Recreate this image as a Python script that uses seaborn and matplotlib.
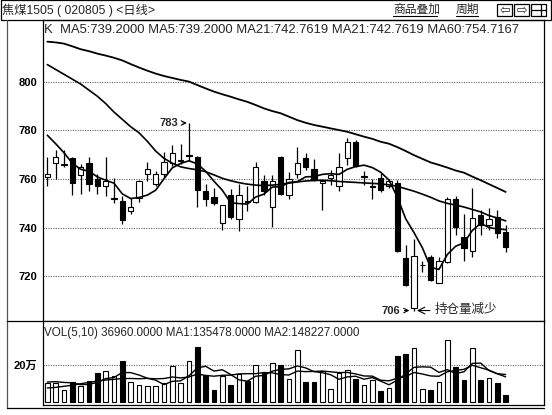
import matplotlib
matplotlib.use("Agg")
import matplotlib.pyplot as plt
import numpy as np
import pandas as pd
import seaborn as sns
from matplotlib.patches import Rectangle
from matplotlib.lines import Line2D

# ---- daily bars (coking coal 1505) ----
opens = [761, 766.5, 765.8, 768.5, 761.5, 766.7, 760, 757, 752, 751,
         747, 752.3, 762, 758, 762.2, 766.6, 767.5, 769.4, 769, 755.2,
         752.5, 742, 753.4, 743.5, 751, 750.7, 759, 748.4, 769, 753.4,
         762, 768.5, 764, 758.5, 760.5, 757, 768.5, 775, 761, 756.8,
         760.3, 757, 758.2, 727.4, 707, 724.5, 728, 717.5, 726, 752,
         736.3, 730.5, 745.2, 741.1, 744.5, 738.4]
highs = [769, 772, 772, 769, 766, 769, 762, 769, 760.4, 753,
         752.3, 759.5, 767, 763.3, 771, 774, 774.5, 783, 769.5, 758,
         756.5, 749.5, 756, 758, 757, 767, 761.6, 761.6, 769.3, 763,
         773.3, 770.7, 768.2, 759.8, 763.7, 770.5, 776.7, 776, 763.2, 760,
         762.3, 760, 759.5, 733, 735.5, 726.5, 729, 728, 752.5, 753,
         745.5, 756.5, 747.3, 748, 747.3, 741]
lows = [757, 760, 765, 753.5, 754, 755, 754, 753, 750, 741.5,
        745.5, 750.5, 759, 757, 761, 765.5, 766.3, 767.5, 748.5, 749,
        749.5, 739, 743.5, 738.5, 747, 750, 753.4, 740.4, 753.4, 752,
        760.3, 763.7, 759, 747.3, 757.5, 755, 765.8, 765, 757.5, 752,
        754.8, 756.5, 730, 716, 706, 722, 718, 717.5, 725.5, 737,
        726.5, 728, 737, 739, 735.6, 730]
closes = [762, 769, 766, 758.5, 765, 758, 757, 759, 752.3, 743.3,
          748.5, 759, 764, 762.2, 767, 770.8, 768, 769.7, 755.5, 752,
          750.3, 749.3, 744.4, 753.4, 750.5, 765, 755.2, 759, 754, 760,
          766.4, 765, 759.5, 759.3, 761.5, 765, 775.3, 765.3, 761.3, 757,
          755.5, 759, 730.5, 716.5, 728.4, 724.7, 718.5, 726.5, 752, 740.5,
          731.5, 743.8, 741.1, 743.4, 737.7, 732.2]

# moving averages of the close
ma5 = [778, 774.5, 770.8, 766.5, 764, 763.2, 760.9, 759.5, 758.3, 753.9,
       752, 752.4, 753.4, 755.4, 760.1, 764.6, 766.4, 767.5, 766.2, 763.2,
       759.1, 755.4, 750.3, 749.9, 749.7, 752.6, 753.8, 756.7, 756.8, 758.6,
       758.9, 760.9, 761, 761.9, 762.2, 761.9, 764, 765.1, 765.7, 764.7,
       762.8, 759.6, 752.6, 743.7, 738, 731.8, 723.7, 722.9, 729, 732.4,
       733.8, 738.9, 741.8, 740.1, 739.5, 739.2]
ma21 = [807, 805, 803, 801, 799, 796.5, 794, 791, 787.5, 784.5,
        781.5, 779, 775.5, 771.5, 768.5, 766.5, 765, 764.3, 763.8, 763,
        761.7, 760.3, 759.3, 758.5, 757.9, 757.5, 757.3, 757.5, 757.8, 758.3,
        758.8, 759.2, 759.4, 759.5, 759.3, 759, 758.8, 758.6, 758.4, 758.2,
        758, 757.6, 757, 756, 755, 753.8, 752.5, 751, 750, 749.3,
        748.5, 747.5, 746.5, 745, 744, 742.8]
ma60 = [816.4, 816.1, 815.6, 814.5, 813.3, 812.5, 811.5, 810.7, 809.8, 808.7,
        807.2, 805.8, 804.5, 803.3, 802.3, 801.5, 800.7, 800, 798.6, 797.2,
        795.9, 794.8, 793.8, 792.7, 791.7, 790.4, 789, 787.9, 787, 785.6,
        784.2, 783.1, 782.2, 781.5, 780.8, 780.1, 779.4, 778.4, 777.4, 776.5,
        775.3, 774.5, 773.1, 771.5, 769.8, 768.3, 766.8, 765.8, 764.7, 763.5,
        762.6, 761, 759.5, 757.9, 756.3, 754.7]

# traded volume and its 5 / 10 day averages
volumes = [104000, 102000, 66000, 107000, 86000, 111000, 155000, 170000, 137500, 223000,
           107000, 89000, 84000, 84000, 102000, 196000, 102000, 223000, 298000, 146000,
           66000, 137500, 93000, 152000, 111000, 200000, 161000, 209000, 200000, 125000,
           280000, 107000, 107000, 170000, 71000, 155000, 173000, 125000, 89000, 116000,
           57000, 75000, 250000, 259000, 295000, 71000, 66000, 107000, 334000, 191000,
           116000, 295000, 116000, 130000, 102000, 36960]
vol_ma5 = [107000, 109000, 105000, 103000, 93000, 94400, 105000, 125800, 131900, 159300,
           158500, 145300, 128100, 117400, 93200, 111000, 113600, 141400, 184200, 193000,
           167000, 174100, 148100, 118900, 111900, 138700, 143400, 166600, 176200, 179000,
           195000, 184200, 163800, 157800, 147000, 122000, 135200, 138800, 122600, 131600,
           112000, 92400, 117400, 151400, 187200, 190000, 188200, 159600, 174600, 153800,
           162800, 208600, 210400, 169600, 151800, 135478]
vol_ma10 = [75000, 78000, 84000, 90000, 98000, 105000, 112000, 118000, 122000, 126200,
            126500, 125200, 127000, 124700, 126300, 134800, 129500, 134800, 150800, 143100,
            139000, 143900, 144800, 151600, 152500, 152900, 158800, 157400, 147600, 145500,
            166900, 163800, 165200, 167000, 163000, 158500, 159700, 151300, 140200, 139300,
            117000, 113800, 128100, 137000, 159400, 151000, 140300, 138500, 163000, 170500,
            176400, 198400, 185000, 172100, 152800, 148227]

price_ticks = [720, 740, 760, 780, 800]
vol_ticks = [200000]
vol_tick_labels = ["20万"]
high_mark = 783
low_mark = 706
title_text = "焦煤1505 ( 020805 ) <日线>"
legend_text = "K  MA5:739.2000 MA5:739.2000 MA21:742.7619 MA21:742.7619 MA60:754.7167"
vol_text = "VOL(5,10) 36960.0000 MA1:135478.0000 MA2:148227.0000"
note_text = "持仓量减少"
menu_items = ["商品叠加", "周期"]

sns.set_theme(style="white")
plt.rcParams["font.family"] = ["Liberation Sans", "Noto Sans CJK SC", "DejaVu Sans"]
plt.rcParams["axes.edgecolor"] = "black"

W, H = 552, 415
fig = plt.figure(figsize=(W / 100, H / 100), dpi=100)
fig.patch.set_facecolor("white")


def fx(px):
    return px / W


def fy(py):
    return 1 - py / H


X0, X1 = 43, 544
ax = fig.add_axes([fx(X0), fy(321), (X1 - X0) / W, (321 - 20) / H])
axv = fig.add_axes([fx(X0), fy(405), (X1 - X0) / W, (405 - 321) / H])

df = pd.DataFrame(dict(day=np.arange(len(closes)), open=opens, high=highs, low=lows,
                       close=closes, ma5=ma5, ma21=ma21, ma60=ma60,
                       vol=volumes, vma5=vol_ma5, vma10=vol_ma10))
rising = (df["close"] >= df["open"]).to_numpy()
fill = np.where(rising, "white", "black")

# ---- price panel ----
for v in price_ticks:
    ax.axhline(v, color="#666666", lw=0.8, ls=(0, (1, 1.2)), zorder=1)
ax.vlines(df["day"], df["low"], df["high"], color="black", lw=0.9, zorder=2)
body_lo = np.minimum(df["open"], df["close"])
body_h = np.maximum((df["close"] - df["open"]).abs(), 0.12)
ax.bar(df["day"], body_h, bottom=body_lo, width=0.62, color=fill,
       edgecolor="black", linewidth=0.8, zorder=3)
for col, lw in [("ma60", 1.3), ("ma21", 1.2), ("ma5", 1.2)]:
    sns.lineplot(data=df, x="day", y=col, ax=ax, color="black", lw=lw,
                 estimator=None, sort=False, zorder=4)

ax.set_xlim(-0.516, 59.6)
ax.set_ylim(701.7, 825.3)
ax.set_xticks([])
ax.set_yticks(price_ticks)
ax.set_yticklabels([str(t) for t in price_ticks], fontsize=8, fontweight="bold")
ax.tick_params(axis="y", length=0, pad=4, colors="black")
ax.set_xlabel("")
ax.set_ylabel("")
for s in ax.spines.values():
    s.set_linewidth(0.9)
    s.set_color("black")

ax.annotate(str(high_mark), xy=(16.75, high_mark), xytext=(15.7, high_mark),
            ha="right", va="center", fontsize=8, fontweight="bold",
            arrowprops=dict(arrowstyle="->", lw=0.8, color="black", shrinkA=1, shrinkB=0))
ax.annotate(str(low_mark), xy=(43.45, low_mark), xytext=(42.3, low_mark),
            ha="right", va="center", fontsize=8, fontweight="bold",
            arrowprops=dict(arrowstyle="->", lw=0.8, color="black", shrinkA=1, shrinkB=0))
ax.annotate("", xy=(44.35, low_mark), xytext=(45.9, low_mark),
            arrowprops=dict(arrowstyle="->", lw=0.8, color="black", shrinkA=0, shrinkB=0))
ax.text(46.5, low_mark + 0.6, note_text, ha="left", va="center", fontsize=9,
        family=["Noto Sans CJK SC"])

# ---- volume panel ----
axv.axhline(vol_ticks[0], color="#666666", lw=0.8, ls=(0, (1, 1.2)), zorder=1)
axv.bar(df["day"], df["vol"], width=0.55, color=fill, edgecolor="black",
        linewidth=0.8, zorder=3)
sns.lineplot(data=df, x="day", y="vma5", ax=axv, color="black", lw=1.0,
             estimator=None, sort=False, zorder=4)
sns.lineplot(data=df, x="day", y="vma10", ax=axv, color="black", lw=1.0,
             estimator=None, sort=False, zorder=4)
axv.set_xlim(-0.516, 59.6)
axv.set_ylim(-18000, 439800)
axv.set_xticks([])
axv.set_yticks(vol_ticks)
axv.set_yticklabels(vol_tick_labels, fontsize=8, fontweight="bold")
axv.tick_params(axis="y", length=0, pad=4, colors="black")
axv.set_xlabel("")
axv.set_ylabel("")
for s in axv.spines.values():
    s.set_linewidth(0.9)
    s.set_color("black")

# ---- header bar and frame ----
FL = 7
fig.add_artist(Rectangle((fx(0.5), fy(20)), 550.5 / W, 19.5 / H, transform=fig.transFigure,
                         fill=False, edgecolor="black", lw=0.9))
fig.add_artist(Line2D([fx(FL), fx(FL)], [fy(20), fy(407.5)], transform=fig.transFigure,
                      color="#555555", lw=0.9))
fig.add_artist(Line2D([fx(FL), fx(X1)], [fy(407.5), fy(407.5)], transform=fig.transFigure,
                      color="black", lw=0.9))
fig.add_artist(Line2D([fx(FL), fx(X0)], [fy(321), fy(321)], transform=fig.transFigure,
                      color="black", lw=0.9))
fig.text(fx(2), fy(10), title_text, ha="left", va="center", fontsize=8.8)
fig.text(fx(44), fy(30), legend_text, ha="left", va="center", fontsize=9.4)
fig.text(fx(44), fy(333), vol_text, ha="left", va="center", fontsize=8.4)

menu_x = [393, 456]
for label, x in zip(menu_items, menu_x):
    t = fig.text(fx(x), fy(9.5), label, ha="left", va="center", fontsize=8.5)
    w = len(label) * 11
    fig.add_artist(Line2D([fx(x), fx(x + w)], [fy(16.5), fy(16.5)],
                          transform=fig.transFigure, color="black", lw=0.8))

for k, glyph in enumerate(["⇦", "⇨", ""]):
    bx = 497 + k * 17
    fig.add_artist(Rectangle((fx(bx), fy(16)), 15 / W, 12 / H, transform=fig.transFigure,
                             fill=False, edgecolor="black", lw=0.9))
    if glyph:
        fig.text(fx(bx + 7.5), fy(10), glyph, ha="center", va="center", fontsize=9,
                 family=["DejaVu Sans"])
    else:
        fig.add_artist(Line2D([fx(bx), fx(bx + 15)], [fy(10), fy(10)],
                              transform=fig.transFigure, color="black", lw=0.9))
        fig.add_artist(Line2D([fx(bx + 10), fx(bx + 10)], [fy(4), fy(16)],
                              transform=fig.transFigure, color="black", lw=0.9))

fig.savefig("out.png", dpi=100, facecolor="white")
